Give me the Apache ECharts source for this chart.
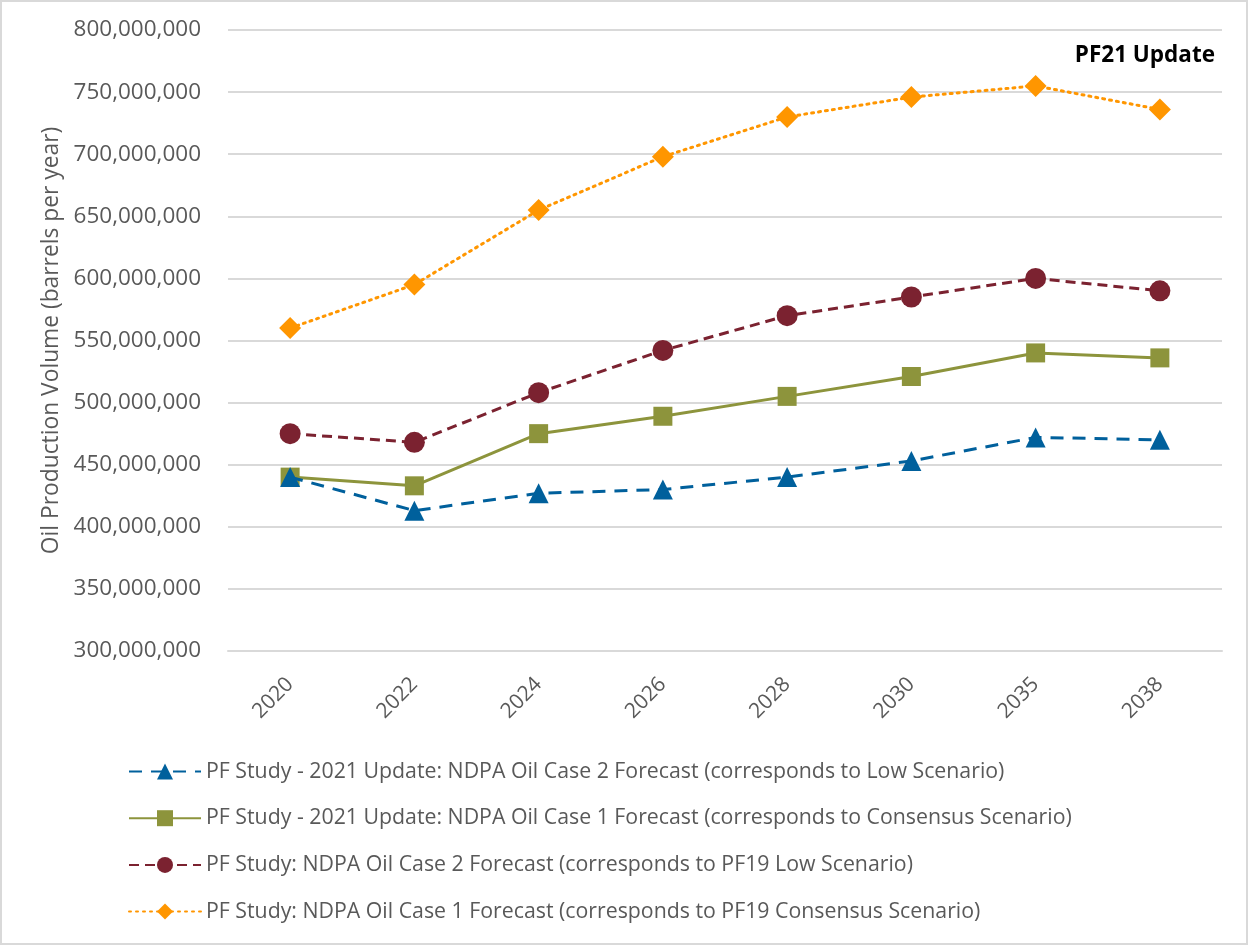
<!DOCTYPE html>
<html>
<head>
<meta charset="utf-8">
<script src="https://cdn.jsdelivr.net/npm/echarts@6/dist/echarts.min.js"></script>
<style>
  html, body { margin: 0; padding: 0; background: #fff; }
  #chart { width: 1249px; height: 946px; }
</style>
</head>
<body>
<div id="chart"></div>
<script>
// x categories
var years = ["2020", "2022", "2024", "2026", "2028", "2030", "2035", "2038"];
// series values (barrels per year)
var lowUpdate = [440000000, 413000000, 427000000, 430000000, 440000000, 453000000, 472000000, 470000000];
var consensusUpdate = [440000000, 433000000, 475000000, 489000000, 505000000, 521000000, 540000000, 536000000];
var lowPF19 = [475000000, 468000000, 508000000, 542000000, 570000000, 585000000, 600000000, 590000000];
var consensusPF19 = [560000000, 595000000, 655000000, 698000000, 730000000, 746000000, 755000000, 736000000];

var names = [
  "PF Study - 2021 Update: NDPA Oil Case 2 Forecast (corresponds to Low Scenario)",
  "PF Study - 2021 Update: NDPA Oil Case 1 Forecast (corresponds to Consensus Scenario)",
  "PF Study: NDPA Oil Case 2 Forecast (corresponds to PF19 Low Scenario)",
  "PF Study: NDPA Oil Case 1 Forecast (corresponds to PF19 Consensus Scenario)"
];

var font = "'Open Sans', 'Noto Sans', sans-serif";
var chart = echarts.init(document.getElementById("chart"));

chart.setOption({
  animation: false,
  textStyle: { fontFamily: font },
  graphic: [
    {
      type: "rect",
      shape: { x: 1, y: 1, width: 1246, height: 943 },
      style: { fill: "none", stroke: "#d9d9d9", lineWidth: 2 }
    },
    {
      type: "text",
      right: 34,
      top: 44,
      style: { text: "PF21 Update", font: "bold 22.5px " + font, fill: "#000" }
    }
  ],
  grid: { left: 228, right: 27, top: 30, bottom: 295 },
  legend: {
    orient: "vertical",
    left: 123,
    top: 756,
    itemWidth: 72,
    itemHeight: 20,
    itemGap: 25.7,
    textStyle: { color: "#595959", fontSize: 21.3, fontFamily: font },
    data: names
  },
  xAxis: {
    type: "category",
    data: years,
    boundaryGap: true,
    axisLine: { lineStyle: { color: "#d9d9d9", width: 2 } },
    axisTick: { show: false },
    axisLabel: { rotate: 45, color: "#595959", fontSize: 21, margin: 30 }
  },
  yAxis: {
    type: "value",
    min: 300000000,
    max: 800000000,
    interval: 50000000,
    name: "Oil Production Volume (barrels per year)",
    nameLocation: "middle",
    nameGap: 165,
    nameTextStyle: { color: "#595959", fontSize: 22.8 },
    axisLine: { show: false },
    axisTick: { show: false },
    splitLine: { lineStyle: { color: "#d9d9d9", width: 2 } },
    axisLabel: {
      color: "#595959",
      fontSize: 22.5,
      margin: 27,
      formatter: function (v) { return v.toLocaleString("en-US"); }
    }
  },
  series: [
    {
      name: names[0],
      type: "line",
      data: lowUpdate,
      symbol: "triangle",
      symbolSize: 20,
      color: "#00609c",
      lineStyle: { width: 3, type: [13, 9] },
      z: 4
    },
    {
      name: names[1],
      type: "line",
      data: consensusUpdate,
      symbol: "rect",
      symbolSize: 19,
      color: "#8d943c",
      lineStyle: { width: 3 },
      z: 3
    },
    {
      name: names[2],
      type: "line",
      data: lowPF19,
      symbol: "circle",
      symbolSize: 21,
      color: "#7b2230",
      lineStyle: { width: 3, type: [10, 6] },
      z: 2
    },
    {
      name: names[3],
      type: "line",
      data: consensusPF19,
      symbol: "diamond",
      symbolSize: 22,
      color: "#ff9600",
      lineStyle: { width: 3, type: [2, 5], cap: "round" },
      z: 1
    }
  ]
});
</script>
</body>
</html>
